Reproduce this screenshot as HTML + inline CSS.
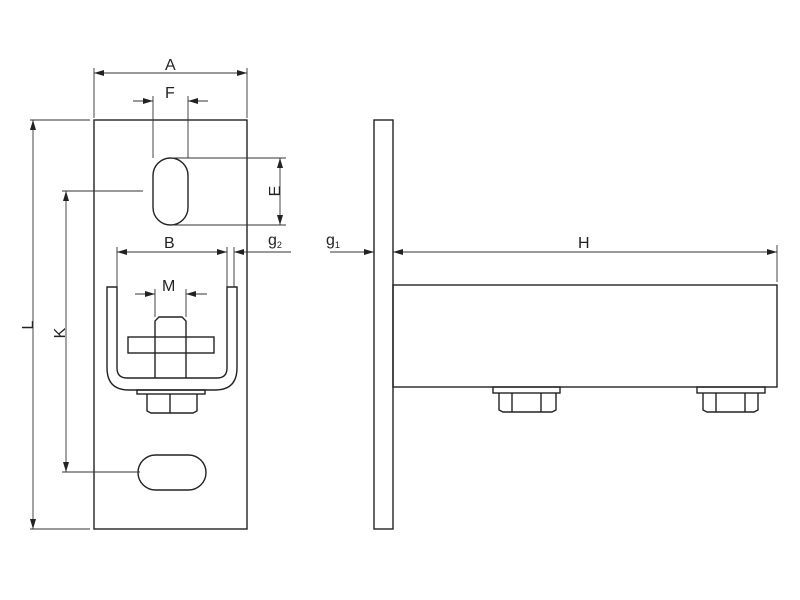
<!DOCTYPE html>
<html><head><style>body{margin:0;background:#fff}svg{display:block}text{font-family:"Liberation Sans",sans-serif;font-size:16px;fill:#222}</style></head><body>
<svg width="800" height="600" viewBox="0 0 800 600" xmlns="http://www.w3.org/2000/svg">
<defs><marker id="a" viewBox="0 0 10 6" refX="10" refY="3" markerWidth="10" markerHeight="6" orient="auto-start-reverse" markerUnits="userSpaceOnUse"><path d="M0,0L10,3L0,6z" fill="#222"/></marker></defs>
<g fill="none" stroke="#222" stroke-width="1.4">
<rect x="94" y="120" width="153" height="409"/>
<rect x="153" y="158" width="35" height="67" rx="17.5"/>
<rect x="138" y="455" width="68" height="35" rx="17.5"/>
<path d="M107,287V368Q107,390 129,390H215Q237,390 237,368V287H227V368Q227,378 217,378H127Q117,378 117,368V287Z"/>
<rect x="128" y="337" width="86" height="16"/>
<path d="M155,378V321L159,317H182L186,321V378"/>
<rect x="137" y="390" width="68" height="4"/>
<path d="M147,394V411L151,413H193L197,411V394"/>
<path d="M170,394V413"/>
<rect x="374" y="120" width="19" height="409"/>
<rect x="393" y="285" width="384" height="102"/>
<rect x="493" y="387" width="67" height="6"/>
<path d="M499,393V410L503,412H552L556,410V393M512,393V412M541,393V412"/>
<rect x="697" y="387" width="68" height="6"/>
<path d="M703,393V410L707,412H754L758,410V393M716,393V412M745,393V412"/>
</g>
<g fill="none" stroke="#333" stroke-width="0.9">
<path d="M94,68V118M247,68V118"/>
<line x1="94" y1="73" x2="247" y2="73" marker-start="url(#a)" marker-end="url(#a)"/>
<path d="M153,96V158M188,96V158"/>
<line x1="133" y1="101" x2="153" y2="101" marker-end="url(#a)"/>
<line x1="208" y1="101" x2="188" y2="101" marker-end="url(#a)"/>
<path d="M170,158H286M170,225H286"/>
<line x1="280" y1="158" x2="280" y2="225" marker-start="url(#a)" marker-end="url(#a)"/>
<path d="M30,120H90M30,529H90"/>
<line x1="33" y1="120" x2="33" y2="529" marker-start="url(#a)" marker-end="url(#a)"/>
<path d="M62,191H143M62,472H140"/>
<line x1="66" y1="191" x2="66" y2="472" marker-start="url(#a)" marker-end="url(#a)"/>
<path d="M117,247V287M227,247V287M234,247V287"/>
<line x1="117" y1="252" x2="227" y2="252" marker-start="url(#a)" marker-end="url(#a)"/>
<line x1="291" y1="252" x2="234" y2="252" marker-end="url(#a)"/>
<path d="M155,289V317M186,289V317"/>
<line x1="135" y1="294" x2="155" y2="294" marker-end="url(#a)"/>
<line x1="207" y1="294" x2="186" y2="294" marker-end="url(#a)"/>
<line x1="330" y1="252" x2="374" y2="252" marker-end="url(#a)"/>
<path d="M777,245V282"/>
<line x1="393" y1="252" x2="777" y2="252" marker-start="url(#a)" marker-end="url(#a)"/>
</g>
<text x="165" y="70">A</text>
<text x="165" y="98">F</text>
<text x="164" y="248">B</text>
<text x="162" y="291">M</text>
<text x="578" y="248">H</text>
<text x="275" y="191" transform="rotate(-90 275 191)" text-anchor="middle" dy="5">E</text>
<text x="28" y="325" transform="rotate(-90 28 325)" text-anchor="middle" dy="5">L</text>
<text x="60" y="333" transform="rotate(-90 60 333)" text-anchor="middle" dy="5">K</text>
<text x="268" y="245">g<tspan font-size="9" dy="3">2</tspan></text>
<text x="326" y="245">g<tspan font-size="9" dy="3">1</tspan></text>
</svg>
</body></html>
